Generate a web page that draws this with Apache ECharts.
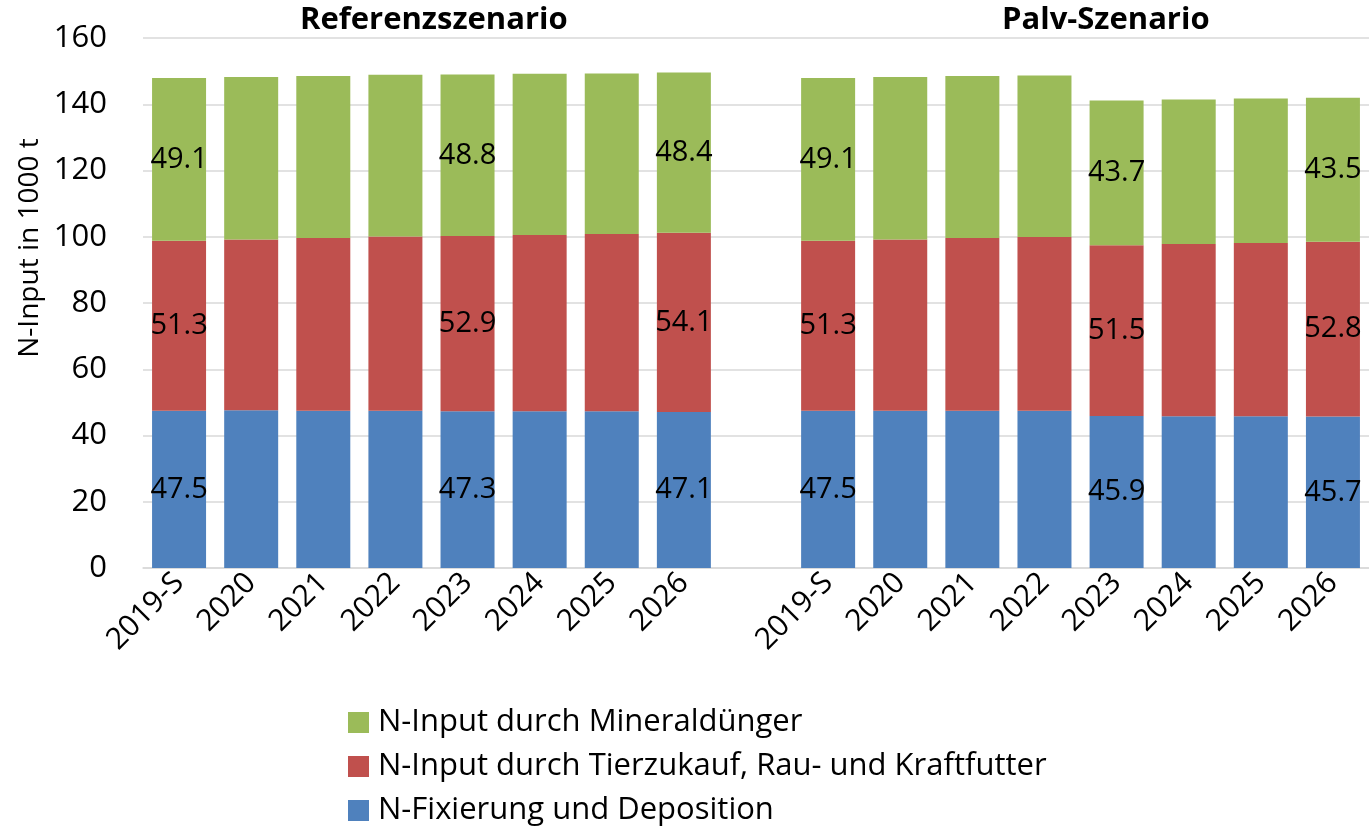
<!DOCTYPE html>
<html>
<head>
<meta charset="utf-8">
<script src="https://cdn.jsdelivr.net/npm/echarts@6/dist/echarts.min.js"></script>
<style>
  html, body { margin: 0; padding: 0; background: #fff; }
  #container { width: 1369px; height: 829px; }
</style>
</head>
<body>
<div id="container"></div>
<script>
// categories: 8 years per scenario, one empty slot as a spacer
var categories = ['2019-S', '2020', '2021', '2022', '2023', '2024', '2025', '2026', '',
                  '2019-S', '2020', '2021', '2022', '2023', '2024', '2025', '2026'];
var fixierung = [47.5, 47.6, 47.5, 47.5, 47.3, 47.3, 47.3, 47.1, null,
                 47.5, 47.5, 47.5, 47.5, 45.9, 45.8, 45.8, 45.7];
var tierzukauf = [51.3, 51.6, 52.1, 52.6, 52.9, 53.2, 53.5, 54.1, null,
                  51.3, 51.7, 52.1, 52.4, 51.5, 52.0, 52.3, 52.8];
var mineral = [49.1, 49.0, 48.9, 48.8, 48.8, 48.7, 48.5, 48.4, null,
               49.1, 49.0, 48.9, 48.8, 43.7, 43.6, 43.6, 43.5];
var labelIdx = [0, 4, 7, 9, 13, 16];
var seriesNames = ['N-Fixierung und Deposition', 'N-Input durch Tierzukauf, Rau- und Kraftfutter', 'N-Input durch Mineraldünger'];
var colors = ['#4F81BD', '#C0504D', '#9BBB59'];

var font = '"Open Sans", "Noto Sans", sans-serif';
var myChart = echarts.init(document.getElementById('container'));

function makeSeries(i, data) {
  return {
    name: seriesNames[i],
    type: 'bar',
    stack: 'total',
    barWidth: 54,
    itemStyle: { color: colors[i] },
    label: {
      show: true,
      position: 'inside',
      color: '#000',
      fontFamily: font,
      fontSize: 29,
      formatter: function (p) {
        return labelIdx.indexOf(p.dataIndex) >= 0 ? p.value.toFixed(1) : '';
      }
    },
    data: data
  };
}

var option = {
  animation: false,
  grid: { left: 143, width: 1239, top: 38, height: 530 },
  graphic: [
    { type: 'text', left: 300, top: 5, style: { text: 'Referenzszenario', font: 'bold 31px ' + font, fill: '#000' } },
    { type: 'text', left: 1002, top: 5, style: { text: 'Palv-Szenario', font: 'bold 31px ' + font, fill: '#000' } },
    { type: 'text', x: 30, y: 248, rotation: Math.PI / 2,
      style: { text: 'N-Input in 1000 t', font: '28px ' + font, fill: '#000', align: 'center', verticalAlign: 'middle' } }
  ],
  legend: {
    orient: 'vertical',
    left: 348,
    top: 705,
    height: 130,
    padding: 0,
    itemWidth: 21,
    itemHeight: 21,
    itemGap: 9,
    icon: 'rect',
    data: [seriesNames[2], seriesNames[1], seriesNames[0]],
    textStyle: { fontFamily: font, fontSize: 31, lineHeight: 35, color: '#000', padding: [0, 0, 0, 4] }
  },
  xAxis: {
    type: 'category',
    data: categories,
    axisLine: { lineStyle: { color: '#D9D9D9', width: 1.5 } },
    axisTick: { show: false },
    axisLabel: { rotate: 45, interval: 0, margin: 10, fontFamily: font, fontSize: 30, color: '#000' }
  },
  yAxis: {
    type: 'value',
    min: 0,
    max: 160,
    interval: 20,
    axisLine: { show: false },
    axisTick: { show: false },
    splitLine: { lineStyle: { color: '#D9D9D9', width: 1.5 } },
    axisLabel: { margin: 36, fontFamily: font, fontSize: 31, color: '#000' }
  },
  series: [
    makeSeries(0, fixierung),
    makeSeries(1, tierzukauf),
    makeSeries(2, mineral)
  ]
};
myChart.setOption(option);
</script>
</body>
</html>
